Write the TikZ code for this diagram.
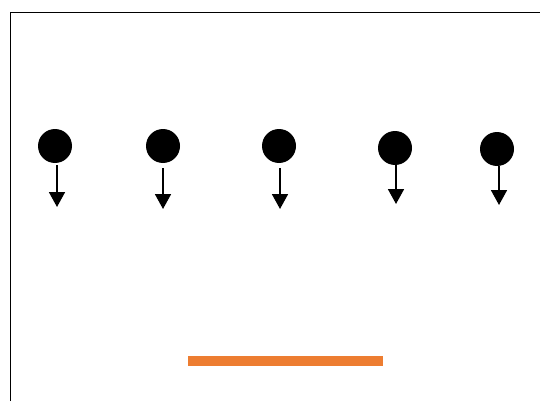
\documentclass[tikz,border=0pt]{standalone}
\usepackage{xcolor}
\usepackage{tikz}
\usetikzlibrary{arrows.meta}

\definecolor{barorange}{HTML}{ED7D31}
\tikzset{ball/.style = {circle, fill = black, minimum size = 34pt, inner sep = 0pt},
	fall/.style = {line width = 1.8pt, -{Triangle[width = 16pt, length = 15pt]}}}

\begin{document}
\begin{tikzpicture} [x = 1pt, y = -1pt]
	\useasboundingbox (0,0) rectangle (540,401);
	\draw [line width = 1.6pt] (10.5,401) -- (10.5,12.5) -- (540,12.5);
	% falling balls
	\node [ball] (b1) at (55,146) {};
	\node [ball] (b2) at (163,146) {};
	\node [ball] (b3) at (279,146) {};
	\node [ball] (b4) at (395,148) {};
	\node [ball] (b5) at (497,149) {};
	\coordinate (t1) at (57,207);
	\coordinate (t2) at (163,209);
	\coordinate (t3) at (280,209);
	\coordinate (t4) at (396,204);
	\coordinate (t5) at (499,205);
	\draw [fall] (b1.south) ++(2,2) -- (t1);
	\draw [fall] (b2.south) ++(0,5) -- (t2);
	\draw [fall] (b3.south) ++(1,5) -- (t3);
	\draw [fall] (b4.south) ++(1,0) -- (t4);
	\draw [fall] (b5.south) ++(2,0) -- (t5);
	% floor
	\draw [barorange, line width = 10pt] (188,361) -- (383,361);
	%\node at (270,5) {};
\end{tikzpicture}
\end{document}
